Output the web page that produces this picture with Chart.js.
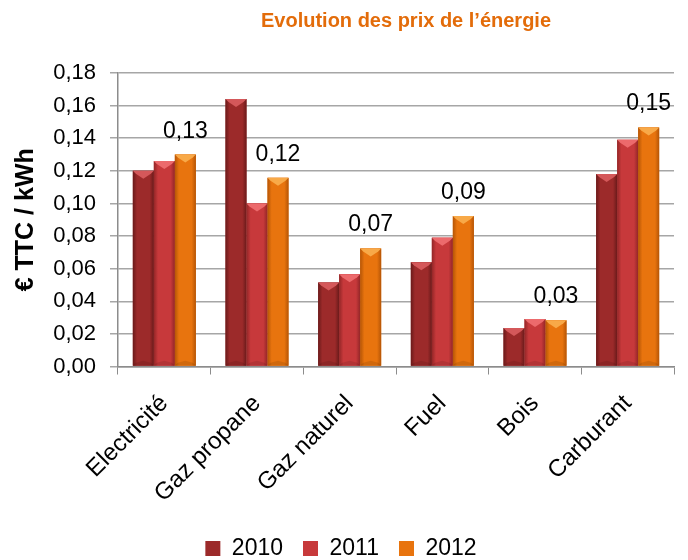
<!DOCTYPE html>
<html>
<head>
<meta charset="utf-8">
<script src="https://cdn.jsdelivr.net/npm/chart.js@4.4.0/dist/chart.umd.min.js"></script>
<style>
  body { margin: 0; background: #fff; }
  #wrap { width: 688px; height: 560px; }
</style>
</head>
<body>
<div id="wrap"><canvas id="mycanvas"></canvas></div>
<script>
var categories = ["Electricité", "Gaz propane", "Gaz naturel", "Fuel", "Bois", "Carburant"];
var years = ["2010", "2011", "2012"];
var prix2010 = [0.120, 0.164, 0.0515, 0.064, 0.0236, 0.118];
var prix2011 = [0.126, 0.100, 0.0566, 0.079, 0.0291, 0.139];
var prix2012 = [0.130, 0.1157, 0.0724, 0.0923, 0.0283, 0.1466];
var yTicks = [0, 0.02, 0.04, 0.06, 0.08, 0.10, 0.12, 0.14, 0.16, 0.18];

// couleurs : base, bord sombre, biseau clair
var colors = [
    {base: "#9c2a2a", dark: "#6a1a1a", light: "#d4585a"},
    {base: "#c7393b", dark: "#932627", light: "#ec6a6c"},
    {base: "#e8740e", dark: "#b55506", light: "#f8a948"}
];

var FONT = "'Liberation Sans', Arial, sans-serif";

function fr(v){
    return v.toFixed(2).replace(".", ",");
}

// titre centré sur la zone du graphique
var centerTitle = {
    id: "centerTitle",
    afterLayout: function(chart){
        var t = chart.titleBlock;
        if (t) {
            t.left = chart.chartArea.left;
            t.right = chart.chartArea.right + 20;
        }
    }
};

// effet 3D des barres + étiquettes de la série 2012
var bevel = {
    id: "bevel",
    afterDatasetsDraw: function(chart){
        var ctx = chart.ctx;
        chart.data.datasets.forEach(function(ds, di){
            var meta = chart.getDatasetMeta(di);
            var c = colors[di];
            meta.data.forEach(function(bar){
                var l = bar.x - bar.width / 2, r = bar.x + bar.width / 2;
                var top = bar.y, bottom = bar.base;
                var g = ctx.createLinearGradient(l, 0, r, 0);
                g.addColorStop(0, c.dark);
                g.addColorStop(0.2, c.base);
                g.addColorStop(0.8, c.base);
                g.addColorStop(1, c.dark);
                ctx.save();
                ctx.fillStyle = g;
                ctx.fillRect(l, top, r - l, bottom - top);
                var d = Math.min(8, (bottom - top) / 2);
                ctx.fillStyle = c.light;
                ctx.beginPath();
                ctx.moveTo(l, top);
                ctx.lineTo(r, top);
                ctx.lineTo(r - 3, top + 3);
                ctx.lineTo(bar.x, top + d);
                ctx.lineTo(l + 3, top + 3);
                ctx.closePath();
                ctx.fill();
                ctx.fillStyle = "rgba(0,0,0,0.10)";
                ctx.beginPath();
                ctx.moveTo(l, bottom);
                ctx.lineTo(r, bottom);
                ctx.lineTo(r - 3, bottom - 3);
                ctx.lineTo(bar.x, bottom - 5);
                ctx.lineTo(l + 3, bottom - 3);
                ctx.closePath();
                ctx.fill();
                ctx.restore();
            });
            if (di === 2) {
                ctx.save();
                ctx.fillStyle = "#000";
                ctx.font = "23px " + FONT;
                ctx.textAlign = "center";
                ctx.textBaseline = "alphabetic";
                meta.data.forEach(function(bar, i){
                    ctx.fillText(fr(ds.data[i]), bar.x, bar.y - 17);
                });
                ctx.restore();
            }
        });
    }
};

var chartdata = {
    labels: categories,
    datasets: [
        {label: years[0], data: prix2010, backgroundColor: colors[0].base, borderColor: colors[0].dark, borderWidth: 0},
        {label: years[1], data: prix2011, backgroundColor: colors[1].base, borderColor: colors[1].dark, borderWidth: 0},
        {label: years[2], data: prix2012, backgroundColor: colors[2].base, borderColor: colors[2].dark, borderWidth: 0}
    ]
};

var ctx = document.getElementById("mycanvas");
var BarGraph = new Chart(ctx, {
    type: "bar",
    data: chartdata,
    plugins: [centerTitle, bevel],
    options: {
        responsive: true,
        maintainAspectRatio: false,
        animation: false,
        datasets: {bar: {barPercentage: 1, categoryPercentage: 0.68}},
        layout: {padding: {left: 8, right: 14, top: 0, bottom: -10}},
        plugins: {
            title: {
                display: true,
                text: "Evolution des prix de l’énergie",
                color: "#e36c0a",
                font: {family: FONT, size: 20, weight: "bold"},
                padding: {top: 9, bottom: 40}
            },
            legend: {
                position: "bottom",
                labels: {
                    color: "#000",
                    font: {family: FONT, size: 23},
                    boxWidth: 15,
                    boxHeight: 15,
                    padding: 20
                }
            },
            tooltip: {enabled: false}
        },
        scales: {
            x: {
                grid: {drawOnChartArea: false, color: "#8c8c8c", tickLength: 8, offset: true},
                border: {color: "#8c8c8c", width: 1.5},
                ticks: {
                    color: "#000",
                    font: {family: FONT, size: 24},
                    maxRotation: 45,
                    minRotation: 45,
                    padding: 15
                },
                afterFit: function(scale){ scale.height -= 6; }
            },
            y: {
                min: 0,
                max: 0.18,
                afterBuildTicks: function(scale){
                    scale.ticks = yTicks.map(function(v){ return {value: v}; });
                },
                grid: {color: "#a6a6a6", lineWidth: 1.5, tickLength: 8},
                border: {color: "#8c8c8c", width: 1.5},
                ticks: {
                    color: "#000",
                    font: {family: FONT, size: 22},
                    padding: 14,
                    callback: function(v){ return fr(v); }
                },
                title: {
                    display: true,
                    text: "€ TTC / kWh",
                    color: "#000",
                    font: {family: FONT, size: 25, weight: "bold"},
                    padding: 3
                },
                afterFit: function(scale){ scale.width = 110; }
            }
        }
    }
});
</script>
</body>
</html>
